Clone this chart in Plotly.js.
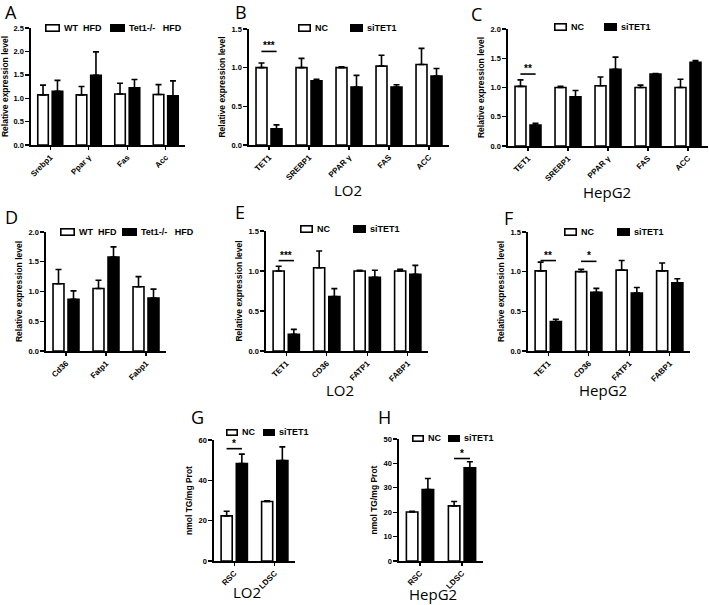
<!DOCTYPE html>
<html><head><meta charset="utf-8">
<script src="https://cdn.plot.ly/plotly-3.0.1.min.js"></script>
<style>html,body{margin:0;padding:0;background:#fff}</style>
</head><body><div id="chart" style="width:709px;height:605px"></div>
<script>
// ---------- DATA ----------
const catsA = ['Srebp1', 'Ppar γ', 'Fas', 'Acc'];
const wtA = [1.07, 1.07, 1.09, 1.08];
const wtAErr = [0.21, 0.18, 0.23, 0.21];
const koA = [1.15, 1.49, 1.22, 1.05];
const koAErr = [0.23, 0.50, 0.18, 0.32];

const catsB = ['TET1', 'SREBP1', 'PPAR γ', 'FAS', 'ACC'];
const ncB = [1.00, 1.00, 1.00, 1.02, 1.04];
const ncBErr = [0.06, 0.12, 0.01, 0.14, 0.21];
const siB = [0.21, 0.83, 0.75, 0.75, 0.89];
const siBErr = [0.05, 0.02, 0.15, 0.03, 0.10];

const catsC = ['TET1', 'SREBP1', 'PPAR γ', 'FAS', 'ACC'];
const ncC = [1.02, 1.00, 1.03, 1.00, 1.00];
const ncCErr = [0.11, 0.02, 0.15, 0.04, 0.14];
const siC = [0.36, 0.84, 1.31, 1.23, 1.43];
const siCErr = [0.03, 0.11, 0.21, 0.01, 0.03];

const catsD = ['Cd36', 'Fatp1', 'Fabp1'];
const wtD = [1.13, 1.05, 1.08];
const wtDErr = [0.24, 0.14, 0.17];
const koD = [0.87, 1.58, 0.89];
const koDErr = [0.14, 0.17, 0.15];

const catsE = ['TET1', 'CD36', 'FATP1', 'FABP1'];
const ncE = [1.00, 1.04, 1.00, 1.00];
const ncEErr = [0.06, 0.21, 0.01, 0.02];
const siE = [0.21, 0.68, 0.92, 0.96];
const siEErr = [0.06, 0.10, 0.09, 0.11];

const catsF = ['TET1', 'CD36', 'FATP1', 'FABP1'];
const ncF = [1.01, 1.00, 1.02, 1.01];
const ncFErr = [0.11, 0.03, 0.12, 0.10];
const siF = [0.37, 0.74, 0.73, 0.86];
const siFErr = [0.03, 0.05, 0.07, 0.05];

const catsG = ['RSC', 'LDSC'];
const ncG = [22.4, 29.5];
const ncGErr = [2.3, 0.3];
const siG = [48.3, 49.8];
const siGErr = [4.7, 6.8];

const catsH = ['RSC', 'LDSC'];
const ncH = [20.1, 22.6];
const ncHErr = [0.3, 1.8];
const siH = [29.3, 38.2];
const siHErr = [4.5, 2.5];

// significance marks: [category, y, label]
const sigB = [['TET1', 1.21, '***']];
const sigC = [['TET1', 1.23, '**']];
const sigE = [['TET1', 1.13, '***']];
const sigF = [['TET1', 1.14, '**'], ['CD36', 1.13, '*']];
const sigG = [['RSC', 55.7, '*']];
const sigH = [['LDSC', 42.0, '*']];

const mouseNames = ['WT\u00a0\u00a0HFD', 'Tet1-/-\u00a0\u00a0\u00a0HFD'];
const cellNames = ['NC', 'siTET1'];

// ---------- LAYOUT CONFIG ----------
const W = 709, H = 605;
const panels = [
  {cats: catsA, a: wtA, ae: wtAErr, b: koA, be: koAErr, sig: [], names: mouseNames,
   xpx: [31, 185], ypx: [28, 145], yr: [0, 2.5], dt: 0.5, fmt: '.1f', yt: 'Relative expression level',
   leg: [[45, 28], [110, 28]], box: [14, 7], letter: ['A', 3, 12], cell: null},
  {cats: catsB, a: ncB, ae: ncBErr, b: siB, be: siBErr, sig: sigB, names: cellNames,
   xpx: [249, 449], ypx: [29, 145], yr: [0, 1.5], dt: 0.5, fmt: '.1f', yt: 'Relative expression level',
   leg: [[298, 28], [350, 28]], box: [12, 7], letter: ['B', 233, 12], cell: ['LO2', 348, 190]},
  {cats: catsC, a: ncC, ae: ncCErr, b: siC, be: siCErr, sig: sigC, names: cellNames,
   xpx: [508, 708], ypx: [29, 146], yr: [0, 2.0], dt: 0.5, fmt: '.1f', yt: 'Relative expression level',
   leg: [[554, 27], [604, 27]], box: [12, 7], letter: ['C', 469, 14], cell: ['HepG2', 607, 192]},
  {cats: catsD, a: wtD, ae: wtDErr, b: koD, be: koDErr, sig: [], names: mouseNames,
   xpx: [46, 166], ypx: [232, 351], yr: [0, 2.0], dt: 0.5, fmt: '.1f', yt: 'Relative expression level',
   leg: [[60, 232], [122, 232]], box: [14, 7], letter: ['D', 3, 217], cell: null},
  {cats: catsE, a: ncE, ae: ncEErr, b: siE, be: siEErr, sig: sigE, names: cellNames,
   xpx: [266, 428], ypx: [231, 351], yr: [0, 1.5], dt: 0.5, fmt: '.1f', yt: 'Relative expression level',
   leg: [[300, 229], [353, 229]], box: [12, 7], letter: ['E', 233, 212], cell: ['LO2', 340, 390]},
  {cats: catsF, a: ncF, ae: ncFErr, b: siF, be: siFErr, sig: sigF, names: cellNames,
   xpx: [528, 690], ypx: [232, 351], yr: [0, 1.5], dt: 0.5, fmt: '.1f', yt: 'Relative expression level',
   leg: [[564, 232], [617, 232]], box: [12, 7], letter: ['F', 502, 218], cell: ['HepG2', 603, 390]},
  {cats: catsG, a: ncG, ae: ncGErr, b: siG, be: siGErr, sig: sigG, names: cellNames,
   xpx: [214, 295], ypx: [440, 561], yr: [0, 60], dt: 20, fmt: 'd', yt: 'nmol TG/mg Prot',
   leg: [[226, 432], [263, 432]], box: [11, 6], letter: ['G', 189, 417], cell: ['LO2', 247, 592]},
  {cats: catsH, a: ncH, ae: ncHErr, b: siH, be: siHErr, sig: sigH, names: cellNames,
   xpx: [399, 483], ypx: [439, 561], yr: [0, 50], dt: 10, fmt: 'd', yt: 'nmol TG/mg Prot',
   leg: [[412, 438], [448, 438]], box: [11, 6], letter: ['H', 376, 417], cell: ['HepG2', 433, 594]}
];

const FONT = 'Liberation Sans, Arial, sans-serif';
const LFONT = 'Open Sans, Noto Sans, sans-serif';
const fills = ['#ffffff', '#000000'];

const data = [];
const layout = {
  width: W, height: H, margin: {l: 0, r: 0, t: 0, b: 0},
  paper_bgcolor: '#fff', plot_bgcolor: 'rgba(0,0,0,0)',
  barmode: 'group', bargap: 0.25, bargroupgap: 0.27,
  showlegend: false, annotations: [], shapes: []
};

panels.forEach((p, i) => {
  const n = i + 1;
  const xa = n === 1 ? 'x' : 'x' + n;
  const ya = n === 1 ? 'y' : 'y' + n;
  const series = [[p.a, p.ae], [p.b, p.be]];
  series.forEach((s, k) => {
    data.push({
      type: 'bar', x: p.cats, y: s[0], name: p.names[k],
      xaxis: xa, yaxis: ya,
      marker: {color: fills[k], line: {color: '#000', width: 1.6}},
      error_y: {type: 'data', symmetric: false, array: s[1], arrayminus: s[1].map(() => 0),
                color: '#000', thickness: 1.6, width: 3},
      hoverinfo: 'skip'
    });
    // legend key (box + label)
    const [lx, ly] = p.leg[k];
    layout.annotations.push({xref: 'paper', yref: 'paper', x: (lx + p.box[0] / 2) / W, y: 1 - ly / H,
      xanchor: 'center', yanchor: 'middle', text: ' ', showarrow: false,
      width: p.box[0] - 2, height: p.box[1] - 2, borderpad: 0, borderwidth: 1.6,
      bordercolor: '#000', bgcolor: fills[k], font: {size: 4}});
    layout.annotations.push({xref: 'paper', yref: 'paper', x: (lx + p.box[0] + 3) / W, y: 1 - ly / H,
      xanchor: 'left', yanchor: 'middle', text: p.names[k], showarrow: false,
      font: {family: FONT, size: 9, color: '#000', weight: 'bold'}});
  });
  layout['xaxis' + (n === 1 ? '' : n)] = {
    domain: [p.xpx[0] / W, p.xpx[1] / W], anchor: ya, type: 'category',
    range: [-0.5, p.cats.length - 0.5], showline: true, linecolor: '#000', linewidth: 1.6,
    ticks: 'outside', ticklen: 3, tickwidth: 1.4, tickcolor: '#000', tickangle: -45,
    tickfont: {family: FONT, size: 8, color: '#000', weight: 'bold'},
    showgrid: false, zeroline: false, fixedrange: true
  };
  layout['yaxis' + (n === 1 ? '' : n)] = {
    domain: [1 - p.ypx[1] / H, 1 - p.ypx[0] / H], anchor: xa,
    range: p.yr, dtick: p.dt, tick0: 0, tickformat: p.fmt,
    showline: true, linecolor: '#000', linewidth: 1.6,
    ticks: 'outside', ticklen: 4, tickwidth: 1.4, tickcolor: '#000',
    tickfont: {family: FONT, size: 7.5, color: '#000', weight: 'bold'},
    title: {text: p.yt, font: {family: FONT, size: 8.5, color: '#000', weight: 'bold'}, standoff: 4},
    showgrid: false, zeroline: false, fixedrange: true
  };
  // significance marks
  p.sig.forEach(sg => {
    layout.shapes.push({type: 'line', xref: xa, yref: ya, x0: sg[0], x1: sg[0],
      x0shift: -0.19, x1shift: 0.19, y0: sg[1], y1: sg[1], line: {color: '#000', width: 1.6}});
    layout.annotations.push({xref: xa, yref: ya, x: sg[0], y: sg[1], text: sg[2], showarrow: false,
      yanchor: 'bottom', yshift: -2, font: {family: FONT, size: 10, color: '#000', weight: 'bold'}});
  });
  layout.annotations.push({xref: 'paper', yref: 'paper', x: p.letter[1] / W, y: 1 - p.letter[2] / H,
    xanchor: 'left', yanchor: 'middle', text: p.letter[0], showarrow: false,
    font: {family: LFONT, size: 18, color: '#000'}});
  if (p.cell) {
    layout.annotations.push({xref: 'paper', yref: 'paper', x: p.cell[1] / W, y: 1 - p.cell[2] / H,
      xanchor: 'center', yanchor: 'middle', text: p.cell[0], showarrow: false,
      font: {family: LFONT, size: 15, color: '#000'}});
  }
});

Plotly.newPlot('chart', data, layout, {staticPlot: true, displayModeBar: false});
</script>
</body></html>
